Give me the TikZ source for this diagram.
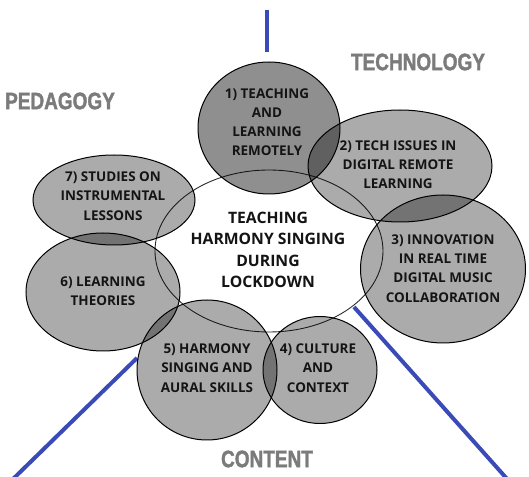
\documentclass[tikz,border=0pt]{standalone}
\usepackage{fontspec}
\setmainfont{Open Sans}
\newfontfamily\labfont[FakeStretch=0.8, FakeBold=1.6, UprightFont={* Bold}, BoldFont={* Bold}]{Liberation Sans}
\usetikzlibrary{shapes.geometric}
\definecolor{axisblue}{HTML}{3A4BB8}
\definecolor{labgray}{HTML}{7B7B7B}
\definecolor{txtdark}{HTML}{141414}
\tikzset{
  blob/.style={ellipse, draw=black, line width=0.75pt, fill=black, fill opacity=0.33, inner sep=0pt},
  darkblob/.style={blob, fill opacity=0.44},
  hub/.style={ellipse, draw=black!85, line width=0.65pt, fill=white, inner sep=0pt},
  ctext/.style={align=center, font=\bfseries\fontsize{10.1}{14.4}\selectfont, text=txtdark, text opacity=1, inner sep=0pt},
  htext/.style={align=center, font=\bfseries\fontsize{11.8}{16}\selectfont, text=txtdark, inner sep=0pt},
  area/.style={font=\labfont\fontsize{17.8}{20}\selectfont, text=labgray, inner sep=0pt},
  axis/.style={draw=axisblue, line width=3pt}
}
\begin{document}
\begin{tikzpicture}[x=0.75pt, y=-0.75pt]
\useasboundingbox (0,0) rectangle (529,477);
% axes
\coordinate (t0) at (267,10);
\coordinate (t1) at (267,52);
\coordinate (l0) at (137,358);
\coordinate (l1) at (12,480);
\coordinate (r0) at (354,307);
\coordinate (r1) at (508,480);
\draw[axis] (t0) -- (t1);
\draw[axis] (l0) -- (l1);
\draw[axis] (r0) -- (r1);
% hub
\node[hub, minimum width=228*0.75pt, minimum height=162*0.75pt] (hub) at (269,251) {};
% blobs
\node[darkblob, minimum width=142*0.75pt, minimum height=132*0.75pt] (c1) at (269,128) {};
\node[blob, minimum width=184*0.75pt, minimum height=112*0.75pt] (c2) at (400,166) {};
\node[blob, minimum width=165*0.75pt, minimum height=148*0.75pt] (c3) at (443,269) {};
\node[blob, minimum width=114*0.75pt, minimum height=107*0.75pt] (c4) at (320,370) {};
\node[blob, minimum width=140*0.75pt, minimum height=140*0.75pt] (c5) at (207,370) {};
\node[blob, minimum width=154*0.75pt, minimum height=118*0.75pt] (c6) at (103,292) {};
\node[blob, minimum width=162*0.75pt, minimum height=90*0.75pt] (c7) at (114,200) {};
% texts
\node[htext] (ht) at (268,250) {TEACHING\\HARMONY SINGING\\DURING\\LOCKDOWN};
\node[ctext] (t1x) at (267,122) {1) TEACHING\\AND\\LEARNING\\REMOTELY};
\node[ctext] (t2x) at (398,164.5) {2) TECH ISSUES IN\\DIGITAL REMOTE\\LEARNING};
\node[ctext] (t3x) at (443,268.5) {3) INNOVATION\\IN REAL TIME\\DIGITAL MUSIC\\COLLABORATION};
\node[ctext] (t4x) at (318,368) {4) CULTURE\\AND\\CONTEXT};
\node[ctext] (t5x) at (207,368) {5) HARMONY\\SINGING AND\\AURAL SKILLS};
\node[ctext] (t6x) at (103,291.5) {6) LEARNING\\THEORIES};
\node[ctext] (t7x) at (113,196) {7) STUDIES ON\\INSTRUMENTAL\\LESSONS};
% area labels
\node[area] (tech) at (418,62) {TECHNOLOGY};
\node[area] (ped) at (60,101) {PEDAGOGY};
\node[area] (cont) at (267,459) {CONTENT};
\end{tikzpicture}
\end{document}
